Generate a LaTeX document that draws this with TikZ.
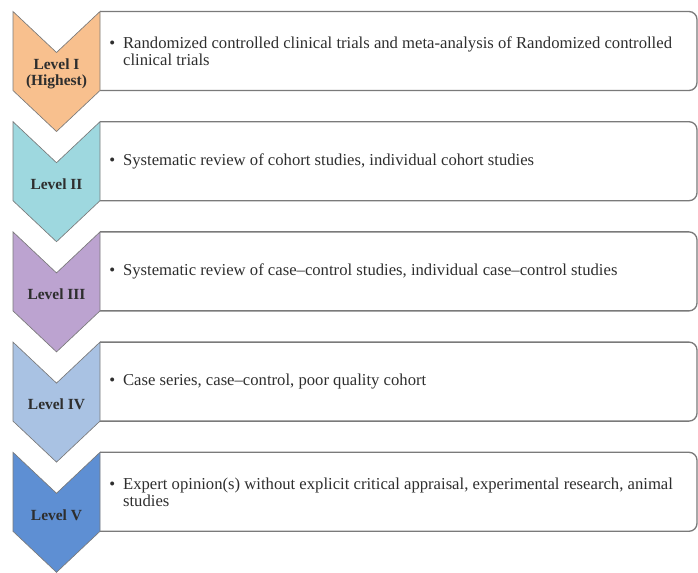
\documentclass[tikz,border=0pt]{standalone}
\usepackage{fontspec}
\setmainfont{Liberation Serif}
\usetikzlibrary{calc,positioning}
\definecolor{lvlorange}{HTML}{F8C08E}
\definecolor{lvlteal}{HTML}{9ED8DF}
\definecolor{lvlpurple}{HTML}{BCA3D0}
\definecolor{lvlsky}{HTML}{A9C2E3}
\definecolor{lvlblue}{HTML}{5E8FD3}
\definecolor{edgegrey}{HTML}{7A7A7A}
\definecolor{inkgrey}{HTML}{2E2E2E}
\tikzstyle{evidence levels}=[
    x=0.75pt,y=-0.75pt,
    every node/.style={
        text=inkgrey,
    },
]
\tikzstyle{level box}=[draw=edgegrey, line width=1pt, rounded corners=6pt]
\tikzstyle{chevron}=[draw=edgegrey, line width=0.5pt, line join=miter]
\tikzstyle{level label}=[align=center, font=\bfseries\fontsize{11.6}{11.5}\selectfont]
\tikzstyle{level text}=[anchor=west, inner sep=0pt, font=\fontsize{12.5}{12.75}\selectfont]
\newcommand{\leveltext}[1]{\textbullet\hspace{6pt}\parbox[t]{420pt}{\raggedright\hyphenpenalty=10000 #1}}

\begin{document}
\begin{tikzpicture}[evidence levels]
        \useasboundingbox (0,0) rectangle (698,572);
        \foreach \i/\col/\lab/\txt in {
            0/lvlorange/{Level I\\(Highest)}/{Randomized controlled clinical trials and meta-analysis of Randomized controlled clinical trials},
            1/lvlteal/{Level II}/{Systematic review of cohort studies, individual cohort studies},
            2/lvlpurple/{Level III}/{Systematic review of case--control studies, individual case--control studies},
            3/lvlsky/{Level IV}/{Case series, case--control, poor quality cohort},
            4/lvlblue/{Level V}/{Expert opinion(s) without explicit critical appraisal, experimental research, animal studies}}
        {
            \pgfmathsetmacro{\t}{11.5+110.2*\i}
            \draw[level box] (100,\t) -- (697,\t) -- (697,\t+79) -- (100,\t+79);
            \draw[chevron, fill=\col] (13,\t) -- (56.5,\t+41) -- (100,\t) -- (100,\t+79)
                -- (56.5,\t+120) -- (13,\t+79) -- cycle;
            \node[level label] (lab\i) at (56.5,\t+62.5) {\lab};
            \node[level text] (box\i) at (109,\t+39.5) {\leveltext{\txt}};
        }
    \end{tikzpicture}
\end{document}
